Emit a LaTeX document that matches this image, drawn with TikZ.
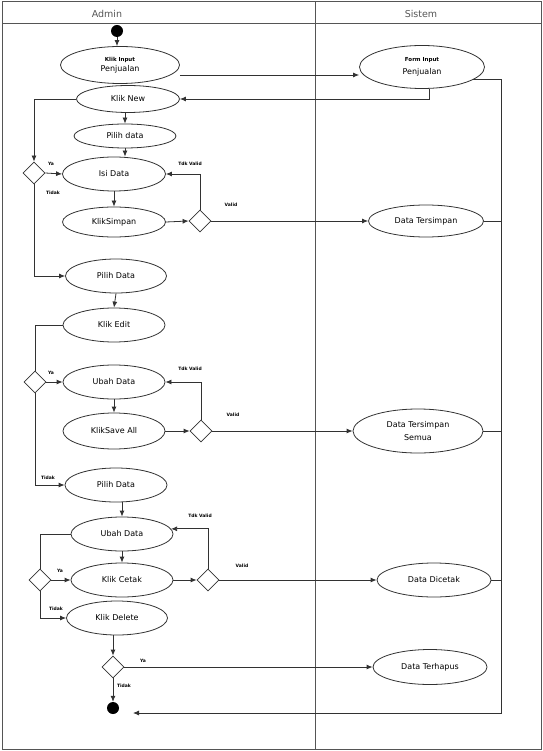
\documentclass[tikz,border=0pt]{standalone}
\usepackage{fontspec}
\setmainfont{DejaVu Sans}
\usepackage{xcolor}
\usetikzlibrary{shapes.geometric,arrows.meta}
\definecolor{lineGray}{RGB}{50,50,50}
\definecolor{frameGray}{RGB}{85,85,85}

\begin{document}
\begin{tikzpicture}[x=1pt,y=-1pt,>={Latex[length=6pt,width=5pt]},
  act/.style={draw=lineGray, line width=0.8pt, ellipse, inner sep=0pt, align=center, font=\fontsize{8}{9.5}\selectfont},
  decision/.style={draw=lineGray, line width=0.8pt, diamond, minimum width=22pt, minimum height=22pt, inner sep=0pt},
  dot/.style={circle, fill=black, minimum size=12pt, inner sep=0pt},
  lbl/.style={font=\fontsize{4.5}{5}\selectfont\bfseries, inner sep=0pt},
  flow/.style={draw=lineGray, line width=0.8pt}]
\useasboundingbox (0,0) rectangle (542,751);

% swimlanes
\draw[frameGray, line width=1pt] (2,2) rectangle (541,749);
\draw[frameGray, line width=1pt] (2,24) -- (541,24);
\draw[frameGray, line width=1pt] (315,2) -- (315,749);
\node[font=\fontsize{9.5}{10}\selectfont, text=frameGray] (admin) at (107,14) {Admin};
\node[font=\fontsize{9.5}{10}\selectfont, text=frameGray] (sistem) at (421,14) {Sistem};

% admin lane
\node[dot] (start) at (117,31) {};
\node[act, minimum width=119pt, minimum height=37pt] (klikinput) at (120,65) {{\fontsize{5.5}{6}\selectfont\bfseries Klik Input}\\Penjualan};
\node[act, minimum width=103pt, minimum height=27pt] (kliknew) at (128,99) {Klik New};
\node[act, minimum width=102pt, minimum height=24pt] (pilihdata1) at (125,136) {Pilih data};
\node[decision] (d1) at (34,173) {};
\node[act, minimum width=103pt, minimum height=34pt] (isidata) at (114,174) {Isi Data};
\node[act, minimum width=103pt, minimum height=30pt] (kliksimpan) at (114,222) {KlikSimpan};
\node[decision] (d2) at (200,221) {};
\node[act, minimum width=101pt, minimum height=34pt] (pilihdata2) at (116,276) {Pilih Data};
\node[act, minimum width=102pt, minimum height=34pt] (klikedit) at (114,325) {Klik Edit};
\node[decision] (d3) at (35,382) {};
\node[act, minimum width=102pt, minimum height=34pt] (ubahdata1) at (114,382) {Ubah Data};
\node[act, minimum width=102pt, minimum height=36pt] (kliksaveall) at (114,431) {KlikSave All};
\node[decision] (d4) at (201,431) {};
\node[act, minimum width=102pt, minimum height=34pt] (pilihdata3) at (116,485) {Pilih Data};
\node[act, minimum width=102pt, minimum height=34pt] (ubahdata2) at (122,534) {Ubah Data};
\node[decision] (d5) at (40,580) {};
\node[act, minimum width=102pt, minimum height=34pt] (klikcetak) at (122,580) {Klik Cetak};
\node[decision] (d6) at (208,580) {};
\node[act, minimum width=101pt, minimum height=34pt] (klikdelete) at (117,618) {Klik Delete};
\node[decision] (d7) at (113,667) {};
\node[dot] (enddot) at (113,708) {};

% sistem lane
\node[act, minimum width=125pt, minimum height=43pt] (forminput) at (422,67) {{\fontsize{5.5}{6}\selectfont\bfseries Form Input}\\[4pt]Penjualan};
\node[act, minimum width=115pt, minimum height=32pt] (tersimpan) at (426,221) {Data Tersimpan};
\node[act, minimum width=130pt, minimum height=44pt] (tersimpansemua) at (418,431) {Data Tersimpan\\[4pt]Semua};
\node[act, minimum width=114pt, minimum height=34pt] (dicetak) at (434,580) {Data Dicetak};
\node[act, minimum width=114pt, minimum height=35pt] (terhapus) at (430,667) {Data Terhapus};
\coordinate (busbot) at (501,713);
\coordinate (endin) at (133,713);

% flows
\draw[flow,->] (start) -- (start |- klikinput.north);
\draw[flow,->] ([yshift=-10pt]klikinput.east) -- ([yshift=-8pt]forminput.west);
\draw[flow,->] ([xshift=7pt]forminput.south) |- (kliknew.east);
\draw[flow,->] (kliknew.west) -| (d1.north);
\draw[flow,->] (pilihdata1.north |- kliknew.south) -- (pilihdata1.north);
\draw[flow,->] (pilihdata1.south) -- (pilihdata1.south |- isidata.north);
\draw[flow,->] (d1.east) -- (isidata.west);
\draw[flow,->] (isidata.south) -- (kliksimpan.north);
\draw[flow,->] (kliksimpan.east) -- (d2.west);
\draw[flow,->] (d2.north) |- (isidata.east);
\draw[flow,->] (d2.east) -- (tersimpan.west);
\draw[flow,->] (d1.south) |- (pilihdata2.west);
\draw[flow,->] (pilihdata2.south) -- (klikedit.north);
\draw[flow] (klikedit.west) -| (d3.north);
\draw[flow,->] (d3.east) -- (ubahdata1.west);
\draw[flow,->] (ubahdata1.south) -- (kliksaveall.north);
\draw[flow,->] (kliksaveall.east) -- (d4.west);
\draw[flow,->] (d4.north) |- (ubahdata1.east);
\draw[flow,->] (d4.east) -- (tersimpansemua.west);
\draw[flow,->] (d3.south) |- (pilihdata3.west);
\draw[flow,->] (pilihdata3.south -| ubahdata2.north) -- (ubahdata2.north);
\draw[flow] (ubahdata2.west) -| (d5.north);
\draw[flow,->] (ubahdata2.south) -- (klikcetak.north);
\draw[flow,->] (d5.east) -- (klikcetak.west);
\draw[flow,->] (klikcetak.east) -- (d6.west);
\draw[flow,->] (d6.north) |- (ubahdata2.6);
\draw[flow,->] (d6.east) -- (dicetak.west);
\draw[flow,->] (d5.south) |- (klikdelete.west);
\draw[flow,->] (d7.north |- klikdelete.south) -- (d7.north);
\draw[flow,->] (d7.east) -- (terhapus.west);
\draw[flow,->] (d7.south) -- (enddot.north);
\draw[flow,->] (forminput.-14) -| (busbot) -- (endin);
\draw[flow] (tersimpan.east) -- (tersimpan.east -| busbot);
\draw[flow] (tersimpansemua.east) -- (tersimpansemua.east -| busbot);
\draw[flow] (dicetak.east) -- (dicetak.east -| busbot);

% labels
\node[lbl] (ya1) at (51,164) {Ya};
\node[lbl] (tidak1) at (53,193) {Tidak};
\node[lbl] (tdkvalid1) at (190,164) {Tdk Valid};
\node[lbl] (valid1) at (231,205) {Valid};
\node[lbl] (ya2) at (51,373) {Ya};
\node[lbl] (tidak2) at (48,478) {Tidak};
\node[lbl] (tdkvalid2) at (190,369) {Tdk Valid};
\node[lbl] (valid2) at (233,415) {Valid};
\node[lbl] (ya3) at (60,571) {Ya};
\node[lbl] (tidak3) at (56,609) {Tidak};
\node[lbl] (tdkvalid3) at (200,516) {Tdk Valid};
\node[lbl] (valid3) at (242,566) {Valid};
\node[lbl] (ya4) at (143,661) {Ya};
\node[lbl] (tidak4) at (124,686) {Tidak};
\end{tikzpicture}
\end{document}
